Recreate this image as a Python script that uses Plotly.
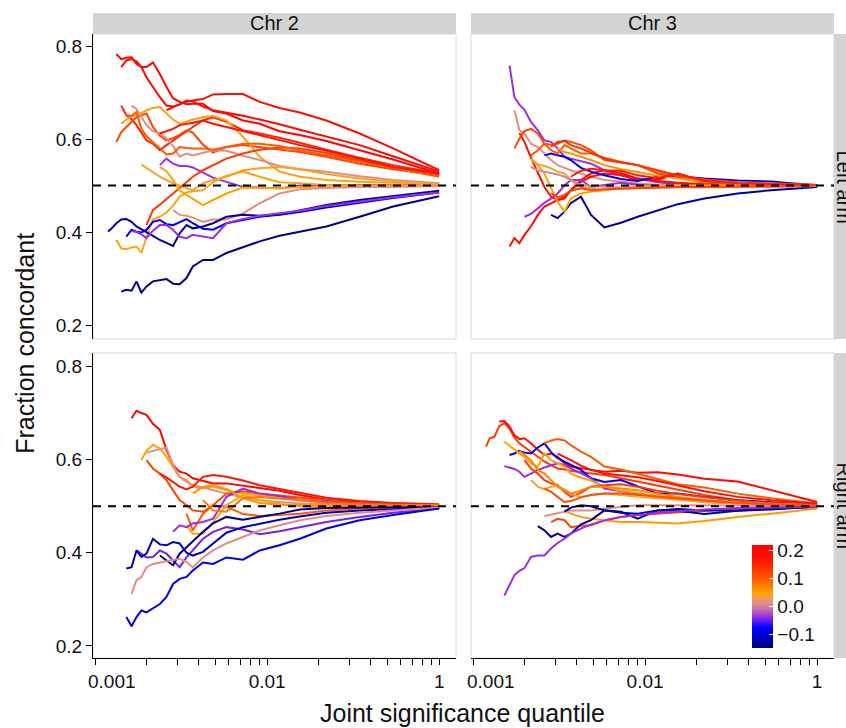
import plotly.graph_objects as go
from plotly.subplots import make_subplots
from plotly.colors import sample_colorscale, hex_to_rgb

# common quantile grid (x) shared by all series
QUANTILE = [0.00119, 0.00125, 0.00133, 0.00142, 0.00152, 0.00163, 0.00174, 0.00186,
            0.00199, 0.00217, 0.00238, 0.0026, 0.00284, 0.0031, 0.0034, 0.0037,
            0.00424, 0.00485, 0.0058, 0.00724, 0.00906, 0.0118, 0.0155, 0.0221,
            0.0345, 0.054, 0.1]

# ---- Chr 2, left arm ----
CHR2_LEFT = [
    [0.783,0.772,0.775,0.776,0.762,0.755,0.755,0.765,0.740,0.712,0.688,0.680,0.675,0.676,0.676,0.660,0.655,0.640,0.633,0.617,0.609,0.596,0.576,0.556,0.526],
    [0.755,0.769,0.772,0.767,0.755,0.733,0.712,0.690,0.672,0.670,0.674,0.683,0.681,0.670,0.662,0.657,0.650,0.642,0.632,0.620,0.606,0.587,0.563,0.530],
    [0.662,0.669,0.675,0.680,0.683,0.686,0.696,0.697,0.697,0.680,0.667,0.657,0.640,0.612,0.580,0.533],
    [0.672,0.651,0.643,0.630,0.614,0.597,0.590,0.576,0.587,0.597,0.607,0.617,0.626,0.640,0.647,0.637,0.619,0.612,0.603,0.592,0.577,0.560,0.544,0.526],
    [0.594,0.615,0.626,0.637,0.647,0.651,0.655,0.626,0.607,0.597,0.602,0.609,0.619,0.614,0.588,0.571,0.583,0.587,0.583,0.578,0.572,0.562,0.547,0.535,0.522],
    [0.633,0.642,0.649,0.652,0.656,0.662,0.667,0.669,0.655,0.642,0.633,0.638,0.642,0.647,0.650,0.640,0.605,0.562,0.530,0.519,0.512,0.508,0.506,0.505],
    [0.672,0.665,0.647,0.630,0.617,0.612,0.602,0.585,0.562,0.569,0.565,0.571,0.576,0.575,0.564,0.555,0.542,0.535,0.530,0.520,0.512,0.505],
    [0.544,0.558,0.547,0.542,0.542,0.539,0.528,0.517,0.508,0.497,0.496,0.494,0.500,0.501,0.501,0.501,0.501],
    [0.545,0.538,0.528,0.519,0.512,0.505,0.500,0.495,0.490,0.505,0.512,0.519,0.533,0.537,0.540,0.535,0.525,0.515,0.509,0.503],
    [0.415,0.447,0.459,0.471,0.483,0.495,0.507,0.519,0.533,0.544,0.558,0.569,0.577,0.582,0.580,0.570,0.553,0.537,0.522],
    [0.383,0.365,0.363,0.367,0.369,0.355,0.390,0.427,0.433,0.442,0.457,0.476,0.485,0.488,0.490,0.507,0.521,0.530,0.519,0.507,0.505,0.501,0.500,0.500,0.500],
    [0.540,0.531,0.512,0.490,0.480,0.472,0.458,0.469,0.483,0.496,0.495,0.494,0.497,0.496,0.499,0.500,0.501],
    [0.447,0.437,0.435,0.431,0.422,0.427,0.427,0.440,0.462,0.483,0.492,0.495,0.497,0.497,0.499],
    [0.401,0.408,0.419,0.427,0.428,0.422,0.412,0.406,0.401,0.392,0.383,0.376,0.370,0.397,0.415,0.408,0.412,0.419,0.433,0.437,0.435,0.438,0.447,0.458,0.469,0.477,0.489],
    [0.390,0.405,0.401,0.399,0.405,0.422,0.426,0.417,0.415,0.422,0.428,0.419,0.407,0.405,0.419,0.426,0.433,0.437,0.443,0.453,0.463,0.473,0.485],
    [0.402,0.400,0.395,0.387,0.403,0.415,0.415,0.405,0.390,0.387,0.394,0.390,0.387,0.419,0.428,0.435,0.441,0.446,0.456,0.465,0.475,0.485],
    [0.272,0.276,0.274,0.294,0.270,0.283,0.294,0.297,0.299,0.289,0.288,0.301,0.326,0.340,0.340,0.355,0.367,0.380,0.392,0.400,0.412,0.433,0.455,0.477],
    [0.651,0.650,0.658,0.622,0.606,0.594,0.580,0.567,0.569,0.583,0.581,0.580,0.580,0.577,0.583,0.590,0.590,0.585,0.576,0.565,0.551,0.537,0.519],
    [0.612,0.617,0.622,0.630,0.632,0.635,0.640,0.633,0.626,0.617,0.608,0.597,0.587,0.575,0.557,0.540,0.526],
]
CHR2_LEFT_R = [0.21, 0.2, 0.19, 0.15, 0.12, 0.045, 0.012, -0.035, 0.04, 0.13,
               0.045, 0.05, 0.015, -0.13, -0.085, -0.035, -0.14, 0.1, 0.18]

# ---- Chr 3, left arm ----
CHR3_LEFT = [
    [0.758,0.690,0.674,0.663,0.637,0.619,0.597,0.594,0.580,0.562,0.558,0.552,0.547,0.533,0.522,0.515,0.507,0.503,0.500,0.500,0.500,0.500],
    [0.662,0.619,0.612,0.590,0.583,0.569,0.555,0.544,0.538,0.533,0.526,0.519,0.512,0.508,0.505,0.502,0.501,0.499,0.499,0.499,0.500],
    [0.613,0.594,0.560,0.526,0.497,0.476,0.469,0.472,0.490,0.508,0.519,0.526,0.522,0.512,0.512,0.526,0.508,0.505,0.503,0.501],
    [0.580,0.601,0.617,0.622,0.612,0.590,0.588,0.590,0.597,0.594,0.587,0.576,0.555,0.549,0.544,0.526,0.517,0.506,0.503,0.502,0.500],
    [0.437,0.430,0.444,0.462,0.476,0.437,0.410,0.420,0.433,0.447,0.460,0.472,0.483,0.490,0.497],
    [0.369,0.387,0.376,0.394,0.412,0.437,0.455,0.462,0.469,0.476,0.490,0.512,0.526,0.533,0.527,0.515,0.510,0.506,0.503,0.502,0.501,0.500],
    [0.433,0.439,0.451,0.463,0.472,0.483,0.500,0.512,0.512,0.497,0.501,0.506,0.502,0.500,0.497,0.497,0.498,0.499,0.499],
    [0.565,0.569,0.565,0.562,0.555,0.538,0.530,0.522,0.514,0.510,0.519,0.520,0.515,0.511,0.509,0.500],
    [0.555,0.546,0.542,0.537,0.530,0.526,0.512,0.497,0.494,0.490,0.494,0.496,0.499,0.499,0.500,0.500,0.500,0.501],
    [0.565,0.576,0.590,0.576,0.569,0.587,0.580,0.569,0.569,0.560,0.551,0.544,0.528,0.520,0.513,0.507,0.505,0.501],
    [0.558,0.544,0.526,0.497,0.465,0.444,0.472,0.483,0.487,0.490,0.496,0.499,0.500,0.500,0.500,0.500,0.501,0.501],
    [0.540,0.533,0.530,0.527,0.524,0.519,0.512,0.501,0.499,0.497,0.496,0.496,0.496,0.496,0.496,0.497,0.497,0.499],
    [0.583,0.594,0.596,0.587,0.580,0.570,0.558,0.550,0.544,0.533,0.522,0.512,0.506,0.503,0.501],
    [0.580,0.572,0.569,0.562,0.555,0.544,0.535,0.529,0.521,0.515,0.508,0.505,0.502,0.501],
    [0.519,0.532,0.536,0.533,0.532,0.522,0.516,0.526,0.510,0.505,0.503,0.501],
    [0.483,0.475,0.480,0.489,0.494,0.490,0.492,0.493,0.495,0.496,0.497,0.497,0.498,0.499,0.500],
]
CHR3_LEFT_R = [-0.035, 0.015, 0.19, 0.12, -0.13, 0.2, -0.035, -0.08, 0.04, 0.1,
               0.05, 0.005, 0.14, 0.06, 0.16, 0.12]

# ---- Chr 2, right arm ----
CHR2_RIGHT = [
    [0.689,0.705,0.700,0.696,0.677,0.664,0.621,0.588,0.574,0.570,0.560,0.554,0.549,0.549,0.544,0.538,0.533,0.524,0.514,0.509,0.506,0.502],
    [0.599,0.619,0.632,0.624,0.606,0.583,0.563,0.556,0.542,0.538,0.542,0.534,0.527,0.523,0.520,0.515,0.509,0.506,0.504,0.502],
    [0.615,0.619,0.623,0.626,0.588,0.563,0.552,0.545,0.540,0.534,0.527,0.518,0.513,0.509,0.506,0.504,0.503,0.503,0.502],
    [0.599,0.581,0.570,0.556,0.534,0.513,0.502,0.491,0.488,0.502,0.527,0.532,0.527,0.523,0.518,0.512,0.506,0.504,0.502],
    [0.570,0.562,0.552,0.542,0.536,0.542,0.563,0.567,0.563,0.555,0.545,0.537,0.529,0.518,0.511,0.507,0.504],
    [0.484,0.448,0.484,0.502,0.499,0.483,0.479,0.481,0.484,0.491,0.495,0.497,0.500],
    [0.459,0.441,0.441,0.466,0.502,0.524,0.513,0.505,0.500,0.498,0.499,0.499,0.500],
    [0.445,0.459,0.455,0.463,0.466,0.473,0.520,0.538,0.527,0.522,0.513,0.509,0.504,0.502,0.500],
    [0.405,0.398,0.390,0.391,0.405,0.398,0.384,0.369,0.390,0.405,0.430,0.445,0.455,0.450,0.440,0.446,0.454,0.466,0.477,0.486,0.495],
    [0.366,0.369,0.405,0.391,0.398,0.430,0.418,0.416,0.423,0.420,0.400,0.394,0.402,0.420,0.443,0.455,0.463,0.471,0.478,0.486,0.491,0.494,0.497],
    [0.394,0.384,0.373,0.398,0.412,0.423,0.445,0.463,0.477,0.471,0.477,0.484,0.493,0.496,0.497,0.498,0.499],
    [0.312,0.341,0.348,0.369,0.376,0.379,0.382,0.384,0.387,0.380,0.369,0.390,0.405,0.420,0.434,0.448,0.459,0.470,0.479,0.486,0.491,0.497],
    [0.262,0.242,0.262,0.276,0.272,0.280,0.290,0.305,0.333,0.344,0.348,0.362,0.379,0.376,0.390,0.385,0.405,0.416,0.430,0.452,0.470,0.481,0.495],
    [0.527,0.542,0.545,0.537,0.517,0.507,0.503,0.502,0.502,0.502,0.502,0.502],
    [0.513,0.491,0.488,0.517,0.520,0.517,0.513,0.507,0.504,0.503,0.502],
]
CHR2_RIGHT_R = [0.21, 0.05, 0.015, 0.12, 0.17, 0.1, 0.045, -0.035, -0.045, -0.12,
                -0.135, 0.012, -0.09, 0.06, 0.08]

# ---- Chr 3, right arm ----
CHR3_RIGHT = [
    [0.628,0.646,0.649,0.672,0.678,0.667,0.647,0.635,0.627,0.617,0.606,0.596,0.588,0.581,0.579,0.576,0.573,0.570,0.567,0.560,0.553,0.544,0.535,0.524,0.513,0.507,0.504],
    [0.682,0.683,0.671,0.652,0.644,0.646,0.635,0.621,0.610,0.613,0.606,0.592,0.585,0.581,0.578,0.574,0.576,0.572,0.573,0.568,0.559,0.553,0.535,0.509],
    [0.610,0.613,0.619,0.615,0.613,0.626,0.635,0.616,0.603,0.596,0.588,0.578,0.560,0.552,0.556,0.543,0.527,0.527,0.520,0.513,0.508,0.502],
    [0.586,0.583,0.580,0.574,0.563,0.570,0.578,0.583,0.588,0.592,0.588,0.581,0.570,0.560,0.538,0.532,0.527,0.520,0.516,0.509,0.506,0.504,0.501],
    [0.639,0.630,0.621,0.613,0.606,0.592,0.585,0.613,0.599,0.592,0.585,0.570,0.561,0.555,0.542,0.533,0.529,0.522,0.518,0.512,0.507,0.504,0.502],
    [0.635,0.641,0.644,0.641,0.631,0.617,0.606,0.585,0.579,0.570,0.558,0.547,0.540,0.527,0.517,0.506],
    [0.599,0.581,0.570,0.556,0.549,0.545,0.531,0.520,0.529,0.542,0.545,0.547,0.542,0.533,0.526,0.519,0.512,0.507,0.504],
    [0.556,0.542,0.536,0.542,0.543,0.536,0.527,0.520,0.524,0.527,0.524,0.520,0.517,0.513,0.509,0.506,0.504,0.502],
    [0.479,0.482,0.486,0.489,0.491,0.491,0.491,0.495,0.499,0.502,0.502,0.502,0.502,0.501,0.501,0.501],
    [0.466,0.473,0.470,0.455,0.458,0.459,0.470,0.477,0.481,0.484,0.487,0.491,0.495,0.497,0.500],
    [0.491,0.484,0.477,0.473,0.470,0.466,0.466,0.464,0.463,0.468,0.477,0.484,0.495],
    [0.457,0.448,0.434,0.441,0.434,0.441,0.461,0.470,0.491,0.488,0.473,0.491,0.490,0.483,0.490,0.493,0.499],
    [0.488,0.497,0.502,0.500,0.491,0.486,0.484,0.491,0.494,0.491,0.491,0.494,0.499],
    [0.308,0.330,0.352,0.361,0.367,0.391,0.394,0.394,0.409,0.421,0.430,0.441,0.452,0.461,0.469,0.477,0.481,0.486,0.489,0.493,0.496,0.497,0.499],
    [0.613,0.606,0.599,0.587,0.578,0.570,0.566,0.562,0.554,0.544,0.532,0.520,0.513,0.506],
    [0.619,0.610,0.599,0.578,0.570,0.556,0.542,0.534,0.527,0.534,0.542,0.542,0.538,0.534,0.527,0.520,0.513,0.508,0.505,0.502],
    [0.538,0.531,0.520,0.509,0.511,0.519,0.524,0.527,0.527,0.524,0.520,0.516,0.512,0.507,0.504,0.502],
]
CHR3_RIGHT_R = [0.13, 0.2, -0.085, -0.035, 0.05, 0.1, 0.13, 0.04, 0.012, 0.12,
                0.055, -0.135, -0.125, -0.035, 0.18, 0.07, 0.11]

COL_LABELS = ["Chr 2", "Chr 3"]
ROW_LABELS = ["Left arm", "Right arm"]
X_TICKS = [0.001, 0.002, 0.003, 0.004, 0.005, 0.006, 0.007, 0.008, 0.009,
           0.01, 0.02, 0.03, 0.04, 0.05, 0.06, 0.07, 0.08, 0.09, 0.1]
X_TICKTEXT = [""] * 9 + ["0.01"] + [""] * 8 + ["1"]
FIRST_X_LABEL = "0.001"
Y_TICKS = [0.2, 0.4, 0.6, 0.8]

# colour scale
CMIN, CMAX = -0.147, 0.22
SCALE_V = [-0.147, -0.075, -0.035, -0.01, 0.01, 0.03, 0.048, 0.1, 0.16, 0.22]
SCALE_C = ["#000080", "#0000FF", "#9A2EE6", "#C070B0", "#E08C88", "#F59A5A",
           "#FFA500", "#FF5A00", "#FF1A00", "#FF0000"]


def rgb(h):
    r, g, b = hex_to_rgb(h)
    return f"rgb({r},{g},{b})"


colorscale = [[(v - CMIN) / (CMAX - CMIN), rgb(c)] for v, c in zip(SCALE_V, SCALE_C)]
colorscale[0][0] = 0.0
colorscale[-1][0] = 1.0

FONT = "Liberation Sans, Arial, Helvetica, sans-serif"
TICK_FONT = dict(size=19, color="#111", family=FONT)

fig = make_subplots(rows=2, cols=2, horizontal_spacing=0.0202, vertical_spacing=0.0224)

panels = [(CHR2_LEFT, CHR2_LEFT_R, 1, 1), (CHR3_LEFT, CHR3_LEFT_R, 1, 2),
          (CHR2_RIGHT, CHR2_RIGHT_R, 2, 1), (CHR3_RIGHT, CHR3_RIGHT_R, 2, 2)]

for series, rvals, row, col in panels:
    for ys, r in zip(series, rvals):
        full = [None] * (len(QUANTILE) - len(ys)) + ys
        color = sample_colorscale(colorscale, [(r - CMIN) / (CMAX - CMIN)])[0]
        fig.add_trace(go.Scatter(x=QUANTILE, y=full, mode="lines",
                                 line=dict(color=color, width=2),
                                 showlegend=False, hoverinfo="skip"),
                      row=row, col=col)

# colour bar carrier
fig.add_trace(go.Scatter(
    x=[0.01], y=[0.05], mode="markers",
    marker=dict(size=1, color=[0.0], cmin=CMIN, cmax=CMAX, colorscale=colorscale,
                showscale=True,
                colorbar=dict(x=0.8893, xanchor="left", y=0.0986, yanchor="middle",
                              len=103, lenmode="pixels", thickness=21,
                              thicknessmode="pixels", xpad=0, ypad=0, outlinewidth=0,
                              tickvals=[-0.1, 0.0, 0.1, 0.2],
                              ticktext=["\u22120.1", "0.0", "0.1", "0.2"],
                              ticks="inside", ticklen=4, tickcolor="white",
                              tickfont=TICK_FONT)),
    showlegend=False, hoverinfo="skip"), row=2, col=2)

for i in range(1, 5):
    row = 1 if i <= 2 else 2
    col = 1 if i in (1, 3) else 2
    xa = dict(type="log", range=[-3.012, -0.902], tickvals=X_TICKS, ticktext=X_TICKTEXT,
              showgrid=False, zeroline=False, automargin=False, tickfont=TICK_FONT)
    if row == 2:
        xa.update(ticks="outside", ticklen=6, tickwidth=1.2, tickcolor="black",
                  showline=True, linecolor="black", linewidth=1.2, showticklabels=True)
    else:
        xa.update(ticks="", showticklabels=False, showline=False)
    ya = dict(range=[0.170, 0.826] if row == 1 else [0.174, 0.829], tickvals=Y_TICKS,
              ticktext=["0.2", "0.4", "0.6", "0.8"],
              showgrid=False, zeroline=False, automargin=False, tickfont=TICK_FONT)
    if col == 1:
        ya.update(ticks="outside", ticklen=6, tickwidth=1.2, tickcolor="black",
                  showline=True, linecolor="black", linewidth=1.2, showticklabels=True)
    else:
        ya.update(ticks="", showticklabels=False, showline=False)
    fig.update_xaxes(xa, row=row, col=col)
    fig.update_yaxes(ya, row=row, col=col)

shapes = []
for i in range(1, 5):
    sx = "x" if i == 1 else f"x{i}"
    sy = "y" if i == 1 else f"y{i}"
    shapes.append(dict(type="rect", xref=f"{sx} domain", yref=f"{sy} domain",
                       x0=0, x1=1, y0=0, y1=1, line=dict(color="#D9D9D9", width=1),
                       layer="below"))
    shapes.append(dict(type="line", xref=f"{sx} domain", yref=sy, x0=0, x1=1,
                       y0=0.5, y1=0.5, line=dict(color="black", width=2, dash="8px,7px"),
                       layer="above"))

top_dom = fig.layout.yaxis.domain
bot_dom = fig.layout.yaxis3.domain
left_dom = fig.layout.xaxis.domain
right_dom = fig.layout.xaxis2.domain
for dom in (left_dom, right_dom):
    shapes.append(dict(type="rect", xref="paper", yref="paper", x0=dom[0], x1=dom[1],
                       y0=1.0, y1=1.0337, fillcolor="#D3D3D3", line=dict(width=0),
                       layer="below"))
for dom in (top_dom, bot_dom):
    shapes.append(dict(type="rect", xref="paper", yref="paper", x0=1.0, x1=1.03,
                       y0=dom[0], y1=dom[1], fillcolor="#D3D3D3", line=dict(width=0),
                       layer="below"))

annotations = []
for lab, dom in zip(COL_LABELS, (left_dom, right_dom)):
    annotations.append(dict(text=lab, xref="paper", yref="paper", x=(dom[0] + dom[1]) / 2,
                            y=1.0169, showarrow=False, xanchor="center", yanchor="middle",
                            font=dict(size=20, color="#111", family=FONT)))
for lab, dom in zip(ROW_LABELS, (top_dom, bot_dom)):
    annotations.append(dict(text=lab, xref="paper", yref="paper", x=1.0135,
                            y=(dom[0] + dom[1]) / 2, showarrow=False, textangle=90,
                            xanchor="center", yanchor="middle",
                            font=dict(size=20, color="#111", family=FONT)))
# first x tick label of each bottom panel (sits just right of its tick)
for xp in (0.0256, 0.5371):
    annotations.append(dict(text=FIRST_X_LABEL, xref="paper", yref="paper", x=xp,
                            y=-0.0369, showarrow=False, xanchor="center",
                            yanchor="middle", font=TICK_FONT))
annotations.append(dict(text="Fraction concordant", xref="paper", yref="paper",
                        x=-0.0918, y=0.505, showarrow=False, textangle=-90,
                        xanchor="center", yanchor="middle",
                        font=dict(size=25, color="#111", family=FONT)))
annotations.append(dict(text="Joint significance quantile", xref="paper", yref="paper",
                        x=0.4993, y=-0.088, showarrow=False, xanchor="center",
                        yanchor="middle", font=dict(size=25, color="#111", family=FONT)))

fig.update_layout(width=846, height=728, template="none",
                  margin=dict(l=93, r=12, t=34, b=70, pad=0),
                  plot_bgcolor="white", paper_bgcolor="white",
                  shapes=shapes, annotations=annotations, showlegend=False,
                  font=dict(family=FONT, color="#111"))

fig.write_html("out.html", config={"displayModeBar": False},
               post_script="document.body.style.margin='0px';document.body.style.overflow='hidden';")
